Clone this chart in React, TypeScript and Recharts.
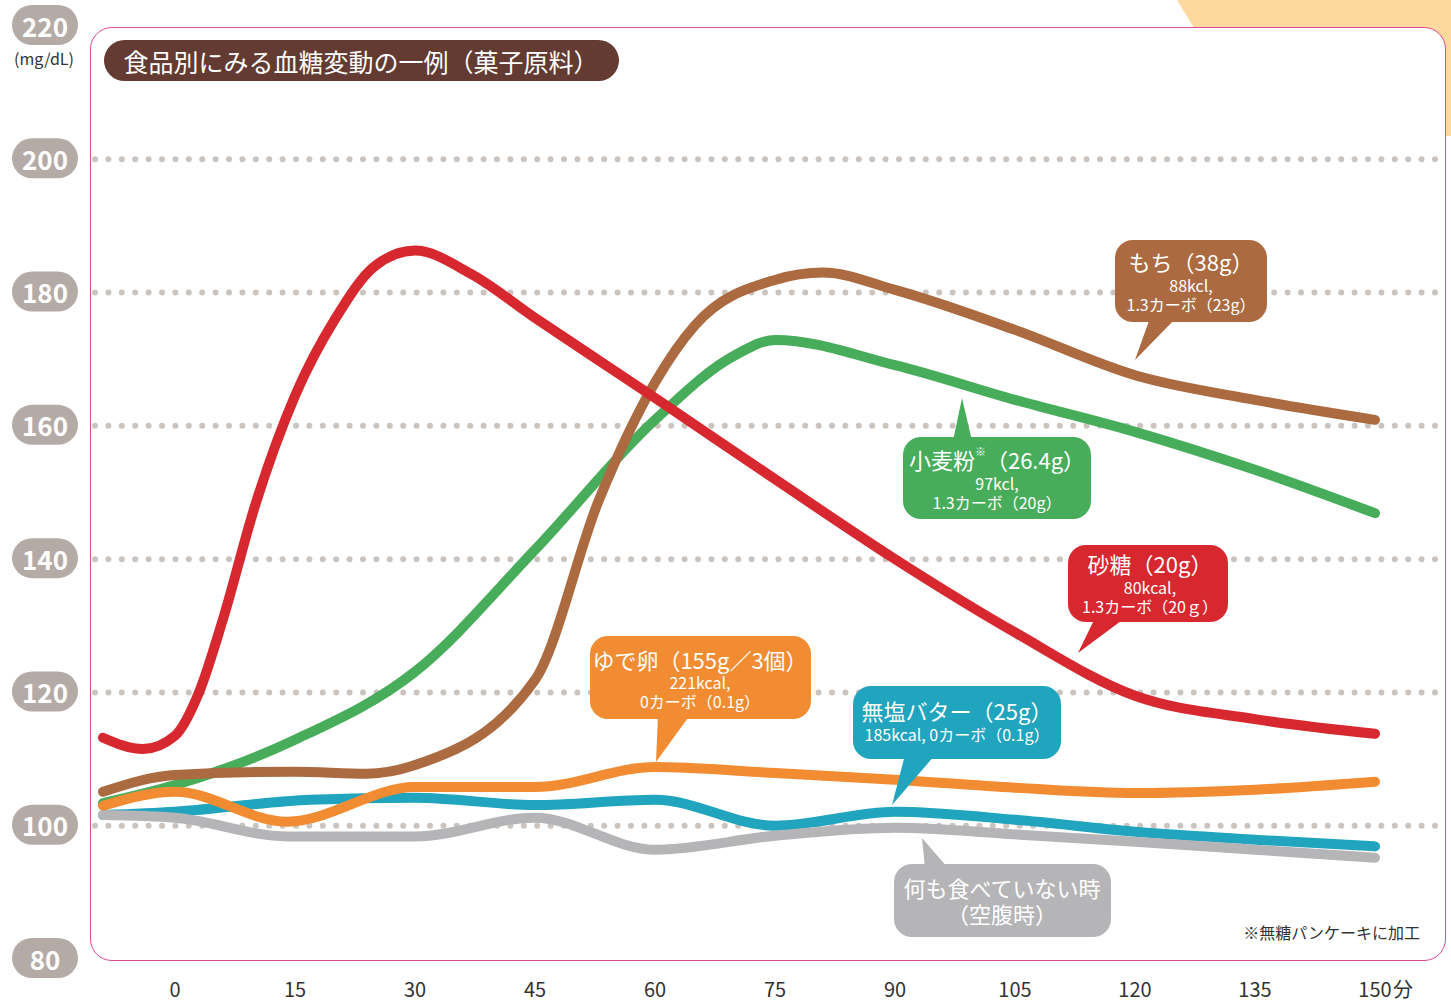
import React from 'react';
import { LineChart, Line, XAxis, YAxis, CartesianGrid } from 'recharts';

// 経過時間(分)と血糖値(mg/dL)
const sugarTime = [-9, -4, 0, 3, 6, 10, 15, 20, 25, 30, 37, 45, 52, 60, 75, 90, 105, 120, 135, 150];
const sugarValue = [113.2, 111.5, 113.5, 120, 131, 148, 164.5, 176, 184, 186.3, 182.8, 176.2, 170.6, 164.2, 152, 140, 129, 119.5, 116, 113.8];

const flourTime = [-9, 0, 15, 30, 45, 60, 70, 75, 90, 105, 120, 135, 150];
const flourValue = [103.4, 106.1, 112.9, 123.1, 141.4, 160.9, 170.6, 172.9, 169.1, 163.9, 159.1, 153.4, 146.9];

const mochiTime = [-9, 0, 15, 24, 30, 45, 53, 60, 65, 75, 81, 90, 105, 120, 135, 150];
const mochiValue = [105.1, 107.6, 108.1, 107.8, 109.1, 121.9, 148.9, 166.5, 175.1, 181.9, 183, 180.4, 174.4, 167.6, 163.9, 160.9];

const eggTime = [-9, 0, 14, 30, 45, 60, 75, 90, 105, 120, 135, 150];
const eggValue = [103, 105.1, 100.6, 105.8, 105.8, 108.8, 107.9, 106.9, 105.7, 104.9, 105.4, 106.6];

const butterTime = [-9, 0, 17, 30, 45, 60, 75, 90, 105, 120, 135, 150];
const butterValue = [101.6, 102.1, 103.9, 104.2, 103.1, 103.9, 100, 102.1, 100.9, 99.1, 97.9, 96.9];

const fastingTime = [-9, 0, 14, 30, 45, 60, 75, 90, 105, 120, 135, 150];
const fastingValue = [101.6, 101.2, 98.4, 98.4, 101.2, 96.4, 98.5, 99.7, 98.7, 97.6, 96.4, 95.2];

const xTicks = [0, 15, 30, 45, 60, 75, 90, 105, 120, 135, 150];
const yTicks = [80, 100, 120, 140, 160, 180, 200, 220];
const gridValues = [100, 120, 140, 160, 180, 200];

const toSeries = (times: number[], values: number[]) => times.map((t, i) => ({ t, v: values[i] }));

const FONT = '"Noto Sans CJK JP", "Noto Sans", sans-serif';

const YTick = (props: any) => {
  const { y, payload } = props;
  return (
    <g>
      <rect x={12} y={y - 21} width={66} height={40} rx={20} fill="#b5aba6" />
      <text x={45} y={y - 1} textAnchor="middle" dominantBaseline="central" fill="#fff" fontSize={26} fontWeight={700} fontFamily={FONT}>
        {payload.value}
      </text>
    </g>
  );
};

const XTick = (props: any) => {
  const { x, y, payload } = props;
  return (
    <g>
      <text x={x} y={y + 30} textAnchor="middle" fill="#333" fontSize={20} fontFamily={FONT}>
        {payload.value}
      </text>
      {payload.value === 150 && (
        <text x={x + 18} y={y + 30} textAnchor="start" fill="#333" fontSize={20} fontFamily={FONT}>分</text>
      )}
    </g>
  );
};

interface CalloutProps {
  x: number; y: number; w: number; h: number; color: string; tail: string;
  cx: number; lines: { text: React.ReactNode; size: number; cy: number }[];
}

const Callout = ({ x, y, w, h, color, tail, cx, lines }: CalloutProps) => (
  <g>
    <polygon points={tail} fill={color} />
    <rect x={x} y={y} width={w} height={h} rx={18} fill={color} />
    {lines.map((l, i) => (
      <text key={i} x={cx} y={l.cy} textAnchor="middle" dominantBaseline="central" fill="#fff" fontSize={l.size} fontFamily={FONT}>
        {l.text}
      </text>
    ))}
  </g>
);

export default function App() {
  return (
    <div style={{ position: 'absolute', left: 0, top: 0, width: 1451, height: 1003, background: '#fff', overflow: 'hidden' }}>
      <div style={{ position: 'absolute', left: 0, top: 0, width: 1451, height: 1003, background: '#fdd9a0', clipPath: 'polygon(1177px 0, 1451px 0, 1451px 136px, 1260px 136px)' }} />
      <div style={{ position: 'absolute', left: 90, top: 27, width: 1354, height: 932, border: '1.5px solid #db4a95', borderRadius: 22, background: '#fff' }} />
      <div style={{ position: 'absolute', left: 0, top: 0 }}>
        <LineChart width={1451} height={1003} margin={{ top: 26, right: 12, bottom: 0, left: 0 }}>
          <CartesianGrid vertical={false} horizontalValues={gridValues} stroke="#cbc3be" strokeWidth={6} strokeDasharray="0 13.4" strokeLinecap="round" />
          <XAxis dataKey="t" type="number" domain={[-10, 158]} ticks={xTicks} allowDataOverflow axisLine={false} tickLine={false} height={44} tick={<XTick />} interval={0} />
          <YAxis type="number" domain={[80, 220]} ticks={yTicks} allowDataOverflow axisLine={false} tickLine={false} width={95} tick={<YTick />} interval={0} />
          <Line data={toSeries(butterTime, butterValue)} dataKey="v" type="monotone" stroke="#21a4bd" strokeWidth={10} strokeLinecap="round" dot={false} isAnimationActive={false} />
          <Line data={toSeries(fastingTime, fastingValue)} dataKey="v" type="monotone" stroke="#b5b5b7" strokeWidth={10} strokeLinecap="round" dot={false} isAnimationActive={false} />
          <Line data={toSeries(flourTime, flourValue)} dataKey="v" type="monotone" stroke="#47ad5b" strokeWidth={10} strokeLinecap="round" dot={false} isAnimationActive={false} />
          <Line data={toSeries(mochiTime, mochiValue)} dataKey="v" type="monotone" stroke="#ab6a40" strokeWidth={10} strokeLinecap="round" dot={false} isAnimationActive={false} />
          <Line data={toSeries(eggTime, eggValue)} dataKey="v" type="monotone" stroke="#f28c33" strokeWidth={10} strokeLinecap="round" dot={false} isAnimationActive={false} />
          <Line data={toSeries(sugarTime, sugarValue)} dataKey="v" type="monotone" stroke="#d7282f" strokeWidth={10} strokeLinecap="round" dot={false} isAnimationActive={false} />
        </LineChart>
      </div>
      <svg width={1451} height={1003} style={{ position: 'absolute', left: 0, top: 0, pointerEvents: 'none' }}>
        <text x={44} y={58} textAnchor="middle" dominantBaseline="central" fill="#333" fontSize={16} fontFamily={FONT}>(mg/dL)</text>
        <rect x={104} y={40} width={515} height={41} rx={20.5} fill="#633b32" />
        <text x={361} y={61} textAnchor="middle" dominantBaseline="central" fill="#fff" fontSize={25} fontFamily={FONT}>食品別にみる血糖変動の一例（菓子原料）</text>

        <Callout x={1115} y={240} w={152} h={82} color="#ab6a40" tail="1150,318 1176,318 1135,360" cx={1191}
          lines={[{ text: 'もち（38g）', size: 22, cy: 261 }, { text: '88kcl,', size: 16, cy: 285 }, { text: '1.3カーボ（23g）', size: 16, cy: 304 }]} />
        <Callout x={903} y={437} w={188} h={82} color="#47ad5b" tail="953,441 972,441 962,398" cx={997}
          lines={[{ text: <>小麦粉<tspan fontSize={11} dy={-8}>※</tspan><tspan dy={8}>（26.4g）</tspan></>, size: 22, cy: 459 }, { text: '97kcl,', size: 16, cy: 483 }, { text: '1.3カーボ（20g）', size: 16, cy: 502 }]} />
        <Callout x={1068} y={545} w={160} h={77} color="#d7282f" tail="1095,618 1125,618 1078,653" cx={1150}
          lines={[{ text: '砂糖（20g）', size: 22, cy: 563 }, { text: '80kcal,', size: 16, cy: 587 }, { text: '1.3カーボ（20ｇ）', size: 16, cy: 606 }]} />
        <Callout x={590} y={636} w={221} h={83} color="#f28c33" tail="658,715 690,715 656,762" cx={700}
          lines={[{ text: 'ゆで卵（155g／3個）', size: 22, cy: 659 }, { text: '221kcal,', size: 16, cy: 682 }, { text: '0カーボ（0.1g）', size: 16, cy: 701 }]} />
        <Callout x={853} y={686} w={208} h={73} color="#21a4bd" tail="905,755 935,755 892,805" cx={957}
          lines={[{ text: '無塩バター（25g）', size: 22, cy: 710 }, { text: '185kcal, 0カーボ（0.1g）', size: 16, cy: 734 }]} />
        <Callout x={894} y={864} w={217} h={73} color="#b5b5b7" tail="922,838 925,868 948,868" cx={1002}
          lines={[{ text: '何も食べていない時', size: 22, cy: 887 }, { text: '（空腹時）', size: 22, cy: 913 }]} />

        <text x={1420} y={932} textAnchor="end" dominantBaseline="central" fill="#333" fontSize={16} fontFamily={FONT}>※無糖パンケーキに加工</text>
      </svg>
    </div>
  );
}
